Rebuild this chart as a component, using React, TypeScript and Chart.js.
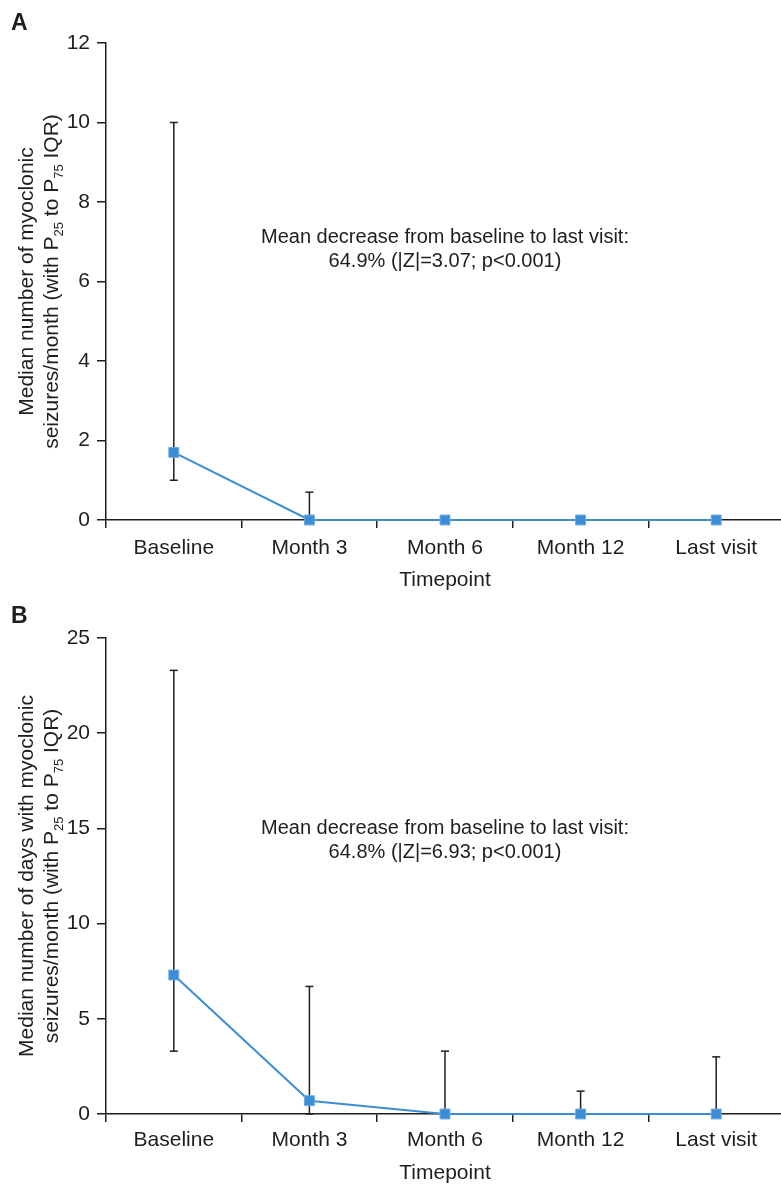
import React, { useEffect, useRef } from 'react';
import { Chart, registerables } from 'chart.js';

Chart.register(...registerables);

const categories = ['Baseline', 'Month 3', 'Month 6', 'Month 12', 'Last visit'];

// Panel A: seizures per month
const seizuresMedian = [1.7, 0, 0, 0, 0];
const seizuresP25 = [1.0, 0, 0, 0, 0];
const seizuresP75 = [10, 0.7, 0, 0, 0];
const seizuresTicks = [0, 2, 4, 6, 8, 10, 12];
const seizuresNote = ['Mean decrease from baseline to last visit:', '64.9% (|Z|=3.07; p<0.001)'];

// Panel B: days with seizures per month
const daysMedian = [7.3, 0.7, 0, 0, 0];
const daysP25 = [3.3, 0, 0, 0, 0];
const daysP75 = [23.3, 6.7, 3.3, 1.2, 3.0];
const daysTicks = [0, 5, 10, 15, 20, 25];
const daysNote = ['Mean decrease from baseline to last visit:', '64.8% (|Z|=6.93; p<0.001)'];

const FONT = "'Liberation Sans', Arial, Helvetica, sans-serif";
const BLUE = '#3d8cd6';
const INK = '#1e1e1e';
const FS = 21;
const CANVAS_W = 792;

type Seg = { t: string; sub?: boolean };

interface PanelProps {
  letter: string;
  median: number[];
  p25: number[];
  p75: number[];
  ticks: number[];
  note: string[];
  noteY: number[];
  titleLine1: string;
  titleLine2: Seg[];
  padTop: number;
  axisHeight: number;
  tickPad: number;
}

function Panel(props: PanelProps) {
  const ref = useRef<HTMLCanvasElement | null>(null);
  useEffect(() => {
    const canvas = ref.current;
    if (!canvas) return;
    const { median, p25, p75, ticks, note, noteY, titleLine1, titleLine2, letter, padTop, axisHeight, tickPad } = props;

    const errorBars = {
      id: 'errorBars',
      beforeDatasetsDraw(chart: any) {
        const ctx = chart.ctx;
        const xs = chart.scales.x;
        const ys = chart.scales.y;
        ctx.save();
        ctx.strokeStyle = INK;
        ctx.lineWidth = 1.5;
        for (let i = 0; i < median.length; i++) {
          const x = xs.getPixelForValue(i);
          const yh = ys.getPixelForValue(p75[i]);
          const yl = ys.getPixelForValue(p25[i]);
          if (p75[i] !== median[i] || p25[i] !== median[i]) {
            ctx.beginPath();
            ctx.moveTo(x, yl);
            ctx.lineTo(x, yh);
            ctx.stroke();
          }
          if (p75[i] !== median[i]) {
            ctx.beginPath();
            ctx.moveTo(x - 4, yh);
            ctx.lineTo(x + 4, yh);
            ctx.stroke();
          }
          if (p25[i] !== median[i]) {
            ctx.beginPath();
            ctx.moveTo(x - 4, yl);
            ctx.lineTo(x + 4, yl);
            ctx.stroke();
          }
        }
        ctx.restore();
      },
      afterDraw(chart: any) {
        const ctx = chart.ctx;
        const ca = chart.chartArea;
        const ys = chart.scales.y;
        ctx.save();
        ctx.fillStyle = INK;
        // panel letter
        ctx.font = `bold 23px ${FONT}`;
        ctx.textAlign = 'left';
        ctx.textBaseline = 'alphabetic';
        ctx.fillText(letter, 11, 30);
        // annotation
        ctx.font = `20px ${FONT}`;
        ctx.textAlign = 'center';
        ctx.textBaseline = 'middle';
        const cx = (ca.left + ca.right) / 2;
        note.forEach((line, k) => ctx.fillText(line, cx, ys.getPixelForValue(noteY[k])));
        // y title (rotated, with subscripts)
        const cy = (ca.top + ca.bottom) / 2;
        ctx.translate(0, cy);
        ctx.rotate(-Math.PI / 2);
        ctx.textAlign = 'left';
        ctx.textBaseline = 'alphabetic';
        const main = `${FS}px ${FONT}`;
        const sub = `13px ${FONT}`;
        ctx.font = main;
        const w1 = ctx.measureText(titleLine1).width;
        ctx.fillText(titleLine1, -w1 / 2, 33);
        let total = 0;
        titleLine2.forEach((s) => {
          ctx.font = s.sub ? sub : main;
          total += ctx.measureText(s.t).width;
        });
        let px = -total / 2;
        titleLine2.forEach((s) => {
          ctx.font = s.sub ? sub : main;
          ctx.fillText(s.t, px, s.sub ? 63 : 58);
          px += ctx.measureText(s.t).width;
        });
        ctx.restore();
      },
    };

    const chart = new Chart(canvas, {
      type: 'line',
      data: {
        labels: categories,
        datasets: [
          {
            data: median,
            borderColor: BLUE,
            borderWidth: 2,
            pointStyle: 'rect',
            pointRadius: 7,
            pointBackgroundColor: BLUE,
            pointBorderColor: '#6aa8e2',
            pointBorderWidth: 1,
            clip: false as any,
            tension: 0,
          },
        ],
      },
      plugins: [errorBars],
      options: {
        animation: false,
        responsive: false,
        devicePixelRatio: 1,
        layout: { padding: { top: padTop, left: 0, right: 0, bottom: 0 } },
        plugins: { legend: { display: false }, tooltip: { enabled: false } },
        scales: {
          x: {
            type: 'category',
            offset: true,
            grid: {
              offset: true,
              drawOnChartArea: false,
              drawTicks: true,
              tickLength: 8,
              color: INK,
              lineWidth: 1.5,
            },
            border: { display: true, color: INK, width: 1.5 },
            ticks: { color: INK, font: { family: FONT, size: FS }, padding: tickPad, maxRotation: 0 },
            title: {
              display: true,
              text: 'Timepoint',
              color: INK,
              font: { family: FONT, size: FS },
              padding: { top: 0, bottom: 0 },
            },
            afterFit(scale: any) {
              scale.height = axisHeight;
              scale.paddingRight = 0;
              scale.paddingLeft = 0;
            },
          },
          y: {
            min: ticks[0],
            max: ticks[ticks.length - 1],
            afterBuildTicks(scale: any) {
              scale.ticks = ticks.map((v) => ({ value: v }));
            },
            grid: {
              drawOnChartArea: false,
              drawTicks: true,
              tickLength: 9,
              color: INK,
              lineWidth: 1.5,
            },
            border: { display: true, color: INK, width: 1.5 },
            ticks: { color: INK, font: { family: FONT, size: FS }, padding: 7 },
            afterFit(scale: any) {
              scale.width = 106;
            },
          },
        },
      },
    });
    return () => chart.destroy();
  }, []);
  return <canvas ref={ref} width={CANVAS_W} height={593} style={{ display: 'block', width: CANVAS_W, height: 593 }} />;
}

const line2: Seg[] = [
  { t: 'seizures/month (with P' },
  { t: '25', sub: true },
  { t: ' to P' },
  { t: '75', sub: true },
  { t: ' IQR)' },
];

export default function App() {
  return (
    <div style={{ position: 'absolute', left: 0, top: 0, width: 781, height: 1186, overflow: 'hidden', background: '#fff' }}>
      <Panel
        letter="A"
        median={seizuresMedian}
        p25={seizuresP25}
        p75={seizuresP75}
        ticks={seizuresTicks}
        note={seizuresNote}
        noteY={[7.1, 6.5]}
        titleLine1="Median number of myoclonic"
        titleLine2={line2}
        padTop={43}
        axisHeight={73}
        tickPad={8}
      />
      <Panel
        letter="B"
        median={daysMedian}
        p25={daysP25}
        p75={daysP75}
        ticks={daysTicks}
        note={daysNote}
        noteY={[15.0, 13.75]}
        titleLine1="Median number of days with myoclonic"
        titleLine2={line2}
        padTop={45}
        axisHeight={72}
        tickPad={6}
      />
    </div>
  );
}
